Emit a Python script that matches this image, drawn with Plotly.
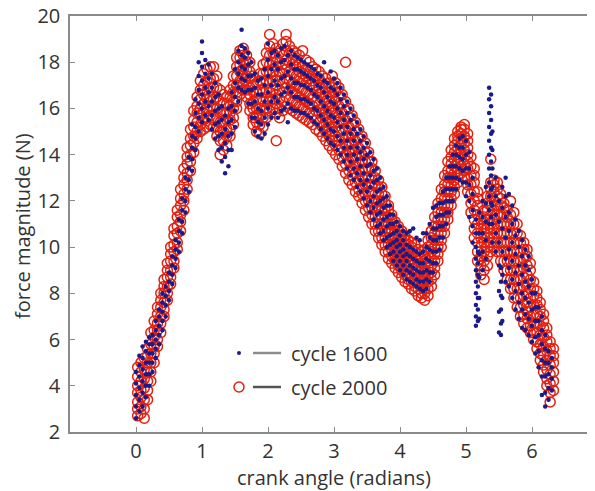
import plotly.graph_objects as go

# crank angle (rad) of each sample column and the force readings (N) seen at that angle
blue_angle = [
    0.00, 0.05, 0.10, 0.15, 0.20, 0.25, 0.30, 0.35, 0.40, 0.45,
    0.50, 0.55, 0.60, 0.65, 0.70, 0.75, 0.80, 0.85, 0.90, 0.95,
    1.00, 1.05, 1.10, 1.15, 1.20, 1.25, 1.30, 1.35, 1.40, 1.45,
    1.50, 1.55, 1.60, 1.65, 1.70, 1.75, 1.80, 1.85, 1.90, 1.95,
    2.00, 2.05, 2.10, 2.15, 2.20, 2.25, 2.30, 2.35, 2.40, 2.45,
    2.50, 2.55, 2.60, 2.65, 2.70, 2.75, 2.80, 2.85, 2.90, 2.95,
    3.00, 3.05, 3.10, 3.15, 3.20, 3.25, 3.30, 3.35, 3.40, 3.45,
    3.50, 3.55, 3.60, 3.65, 3.70, 3.75, 3.80, 3.85, 3.90, 3.95,
    4.00, 4.05, 4.10, 4.15, 4.20, 4.25, 4.30, 4.35, 4.40, 4.45,
    4.50, 4.55, 4.60, 4.65, 4.70, 4.75, 4.80, 4.85, 4.90, 4.95,
    5.00, 5.05, 5.10, 5.15, 5.18, 5.20, 5.25, 5.30, 5.35, 5.38,
    5.40, 5.45, 5.50, 5.53, 5.55, 5.60, 5.65, 5.70, 5.75, 5.80,
    5.85, 5.90, 5.95, 6.00, 6.05, 6.10, 6.15, 6.20, 6.25, 6.30,
]
blue_force = [
    [2.6, 3.1, 3.6, 4.1, 4.6], [2.9, 3.4, 3.9, 4.4, 4.9, 5.3], [3.1, 3.7, 4.2, 4.7, 5.2, 5.7],
    [3.5, 4.0, 4.5, 5.0, 5.5, 5.9], [4.0, 4.5, 5.0, 5.4, 5.8, 6.1], [4.6, 5.0, 5.4, 5.8, 6.2],
    [5.2, 5.6, 6.0, 6.4, 6.8], [5.8, 6.2, 6.6, 7.0, 7.3], [6.4, 6.8, 7.2, 7.6, 8.0],
    [7.0, 7.5, 7.9, 8.3], [7.7, 8.1, 8.5, 8.9], [8.4, 8.8, 9.2, 9.6],
    [9.1, 9.5, 9.9, 10.3], [9.8, 10.2, 10.7, 11.2], [10.6, 11.1, 11.6, 12.1],
    [11.5, 12.0, 12.5, 13.0], [12.4, 12.9, 13.4, 13.9], [13.3, 13.8, 14.3, 14.8, 15.3],
    [14.2, 14.7, 15.2, 15.8, 16.4], [15.0, 15.6, 16.2, 16.8, 17.4, 18.0],
    [15.4, 16.0, 16.6, 17.2, 17.8, 18.4, 18.9], [15.7, 16.3, 16.9, 17.5, 18.1],
    [15.5, 16.1, 16.7, 17.3, 17.9], [15.1, 15.7, 16.3, 16.9, 17.5], [14.7, 15.3, 15.9, 16.5, 17.1],
    [14.2, 14.8, 15.4, 16.0, 16.6], [13.7, 14.3, 14.9, 15.5, 16.1], [13.2, 13.9, 14.5, 15.1, 15.7],
    [13.5, 14.2, 14.8, 15.4, 16.0], [14.2, 14.9, 15.5, 16.1, 16.7], [15.2, 15.9, 16.5, 17.1, 17.7],
    [16.3, 16.9, 17.5, 18.0, 18.5], [16.8, 17.3, 17.8, 18.3, 18.7, 19.4], [16.7, 17.2, 17.7, 18.2, 18.6],
    [16.2, 16.8, 17.4, 17.9, 18.4], [15.6, 16.2, 16.8, 17.4, 18.0], [15.0, 15.6, 16.3, 16.9, 17.5],
    [14.8, 15.4, 16.0, 16.6, 17.2], [14.7, 15.3, 15.9, 16.6, 17.3], [14.9, 15.6, 16.3, 17.0, 17.7],
    [15.3, 16.0, 16.7, 17.4, 18.1, 18.8], [15.6, 16.3, 17.0, 17.7, 18.4], [15.8, 16.5, 17.2, 17.9, 18.5],
    [15.6, 16.3, 17.0, 17.7, 18.3], [15.9, 16.6, 17.3, 18.0, 18.6], [16.0, 16.7, 17.4, 18.1, 18.7],
    [15.4, 16.2, 16.9, 17.6, 18.3], [16.0, 16.7, 17.3, 17.9, 18.5], [15.9, 16.5, 17.1, 17.7, 18.3],
    [15.9, 16.5, 17.1, 17.7, 18.2], [15.8, 16.4, 17.0, 17.6, 18.1], [15.8, 16.4, 17.0, 17.5, 18.0],
    [15.7, 16.3, 16.9, 17.4, 17.9], [15.6, 16.2, 16.8, 17.3, 17.8], [15.4, 16.0, 16.6, 17.2, 17.7],
    [15.3, 15.9, 16.5, 17.0, 17.5], [15.1, 15.7, 16.3, 16.9, 17.4], [14.9, 15.5, 16.1, 16.7, 17.2, 18.0],
    [14.7, 15.3, 15.9, 16.5, 17.1], [14.5, 15.1, 15.7, 16.3, 16.9, 17.6],
    [14.4, 15.0, 15.6, 16.2, 16.8, 17.3], [14.2, 14.8, 15.4, 16.0, 16.6, 17.1],
    [14.0, 14.6, 15.2, 15.8, 16.4, 16.9], [13.7, 14.3, 14.9, 15.5, 16.1, 16.6],
    [13.4, 14.0, 14.6, 15.2, 15.8, 16.3], [13.1, 13.7, 14.3, 14.9, 15.5, 16.0],
    [12.9, 13.4, 14.0, 14.6, 15.1, 15.7], [12.6, 13.2, 13.8, 14.3, 14.9, 15.4],
    [12.4, 12.9, 13.5, 14.1, 14.6, 15.1], [12.1, 12.7, 13.2, 13.8, 14.3, 14.8],
    [11.8, 12.4, 12.9, 13.5, 14.0, 14.5], [11.5, 12.0, 12.6, 13.1, 13.6, 14.1],
    [11.2, 11.7, 12.2, 12.8, 13.3, 13.8], [10.9, 11.4, 11.9, 12.4, 12.9, 13.4],
    [10.6, 11.0, 11.5, 12.0, 12.5, 13.0], [10.3, 10.7, 11.2, 11.7, 12.1, 12.6],
    [10.0, 10.4, 10.9, 11.3, 11.8, 12.2], [9.7, 10.1, 10.5, 11.0, 11.4, 11.8],
    [9.4, 9.8, 10.2, 10.6, 11.0, 11.4], [9.2, 9.6, 10.0, 10.3, 10.7, 11.1],
    [9.0, 9.4, 9.8, 10.1, 10.5, 10.9], [8.8, 9.2, 9.6, 9.9, 10.3, 10.7],
    [8.6, 9.0, 9.4, 9.7, 10.1, 10.6], [8.5, 8.9, 9.2, 9.6, 10.0, 10.7],
    [8.4, 8.8, 9.1, 9.5, 9.9, 10.8], [8.3, 8.6, 9.0, 9.4, 9.8, 10.4],
    [8.2, 8.5, 8.9, 9.3, 9.7, 10.3], [8.1, 8.5, 8.9, 9.3, 9.8, 10.6],
    [8.2, 8.6, 9.0, 9.5, 10.0, 10.6], [8.5, 8.9, 9.4, 9.9, 10.4, 11.0],
    [8.9, 9.3, 9.8, 10.3, 10.8, 11.7], [9.3, 9.8, 10.3, 10.8, 11.3, 11.8],
    [9.9, 10.4, 10.9, 11.4, 11.9], [10.4, 10.9, 11.4, 11.9, 12.4], [11.0, 11.5, 12.0, 12.5, 13.0],
    [11.5, 12.0, 12.5, 13.0, 13.5], [12.0, 12.5, 13.0, 13.5, 14.0], [12.5, 13.0, 13.5, 14.0, 14.4],
    [12.9, 13.4, 13.9, 14.3, 14.7], [12.8, 13.3, 13.8, 14.3, 14.8],
    [12.2, 12.8, 13.4, 14.0, 14.6], [11.3, 12.0, 12.7, 13.4, 14.1], [10.2, 10.9, 11.6, 12.3, 13.0],
    [6.6, 7.0, 7.5, 8.0, 8.5, 9.0, 9.5, 10.0, 10.6, 11.2], [6.8, 7.3, 7.8, 8.3, 8.8, 9.3, 9.8],
    [6.9, 7.8, 8.7, 9.7, 10.6, 11.5], [9.0, 9.8, 10.6, 11.3, 12.0], [9.5, 10.3, 11.1, 11.9, 12.6],
    [11.0, 11.6, 12.2, 12.8, 13.4, 14.0, 14.6, 15.2, 15.8, 16.4, 16.9],
    [11.3, 11.9, 12.5, 13.1, 13.7, 14.3, 14.9, 15.5, 16.1, 16.6],
    [10.2, 11.0, 11.8, 12.6, 13.4, 14.2, 15.0], [9.8, 10.6, 11.4, 12.2, 13.0],
    [6.3, 7.2, 8.1, 9.2, 10.2, 11.1, 12.0], [6.2, 6.7, 7.3, 7.9, 8.5, 9.1],
    [6.8, 7.8, 8.8, 9.8, 10.8, 11.7, 12.6], [8.5, 9.5, 10.4, 11.3, 12.2, 13.0],
    [8.3, 9.1, 9.9, 10.7, 11.5, 12.3], [7.8, 8.6, 9.4, 10.2, 11.0, 11.8],
    [7.3, 8.1, 8.9, 9.7, 10.5, 11.2], [6.9, 7.6, 8.4, 9.2, 10.0, 10.7],
    [6.5, 7.3, 8.0, 8.8, 9.6, 10.3], [6.4, 7.1, 7.8, 8.5, 9.2, 9.9],
    [6.2, 6.9, 7.6, 8.3, 9.0, 9.6], [5.9, 6.6, 7.3, 8.0, 8.6], [5.4, 6.1, 6.8, 7.4, 8.0],
    [4.8, 5.5, 6.2, 6.8, 7.4], [3.6, 4.4, 5.1, 5.8, 6.4, 7.0], [3.1, 3.7, 4.4, 5.0, 5.6, 6.2],
    [3.4, 3.9, 4.5, 5.0, 5.5], [3.8, 4.3, 4.8, 5.2],
]

red_angle = [
    0.025, 0.075, 0.125, 0.175, 0.225, 0.275, 0.325, 0.375, 0.425, 0.475,
    0.525, 0.575, 0.625, 0.675, 0.725, 0.775, 0.825, 0.875, 0.925, 0.975,
    1.025, 1.075, 1.125, 1.175, 1.225, 1.275, 1.325, 1.375, 1.425, 1.475,
    1.525, 1.575, 1.625, 1.675, 1.725, 1.775, 1.825, 1.875, 1.925, 1.975,
    2.025, 2.075, 2.125, 2.175, 2.225, 2.275, 2.325, 2.375, 2.425, 2.475,
    2.525, 2.575, 2.625, 2.675, 2.725, 2.775, 2.825, 2.875, 2.925, 2.975,
    3.025, 3.075, 3.125, 3.175, 3.225, 3.275, 3.325, 3.375, 3.425, 3.475,
    3.525, 3.575, 3.625, 3.675, 3.725, 3.775, 3.825, 3.875, 3.925, 3.975,
    4.025, 4.075, 4.125, 4.175, 4.225, 4.275, 4.325, 4.375, 4.425, 4.475,
    4.525, 4.575, 4.625, 4.675, 4.725, 4.775, 4.825, 4.875, 4.925, 4.975,
    5.025, 5.075, 5.125, 5.175, 5.225, 5.275, 5.325, 5.375, 5.425, 5.475,
    5.525, 5.575, 5.625, 5.675, 5.725, 5.775, 5.825, 5.875, 5.925, 5.975,
    6.025, 6.075, 6.125, 6.175, 6.225, 6.275, 6.325,
]
red_force = [
    [2.7, 3.0, 3.3, 3.7, 4.0, 4.4, 4.8], [2.8, 3.1, 3.5, 3.8, 4.2, 4.6, 5.0],
    [2.6, 3.0, 3.4, 3.9, 4.3, 4.7, 5.2], [3.4, 3.8, 4.2, 4.6, 5.0, 5.3, 5.6],
    [4.2, 4.6, 5.0, 5.4, 5.8, 6.3], [5.0, 5.4, 5.7, 6.1, 6.4, 6.8],
    [5.7, 6.0, 6.4, 6.7, 7.1, 7.4], [6.3, 6.7, 7.0, 7.4, 7.7, 8.0],
    [7.0, 7.3, 7.6, 8.0, 8.3, 8.6], [7.7, 8.0, 8.3, 8.7, 9.0, 9.3],
    [8.4, 8.7, 9.0, 9.4, 9.7, 10.0], [9.1, 9.4, 9.8, 10.1, 10.5, 10.8],
    [9.9, 10.2, 10.6, 10.9, 11.3, 11.6], [10.7, 11.1, 11.4, 11.8, 12.1, 12.5],
    [11.6, 12.0, 12.3, 12.7, 13.0, 13.4], [12.5, 12.9, 13.2, 13.6, 13.9, 14.3],
    [13.3, 13.7, 14.0, 14.4, 14.7, 15.1], [14.1, 14.5, 14.8, 15.2, 15.5, 15.9],
    [14.7, 15.0, 15.4, 15.8, 16.1, 16.5], [15.0, 15.3, 15.7, 16.0, 16.4, 16.8, 17.2],
    [15.1, 15.5, 15.8, 16.2, 16.6, 17.0, 17.5], [15.2, 15.6, 16.0, 16.4, 16.8, 17.2, 17.7],
    [15.3, 15.7, 16.1, 16.5, 16.9, 17.3, 17.8], [15.2, 15.6, 16.0, 16.4, 16.9, 17.3, 17.8],
    [14.8, 15.2, 15.6, 16.0, 16.5, 16.9, 17.4], [14.0, 14.6, 15.0, 15.4, 15.8, 16.3, 16.8],
    [14.2, 14.6, 15.0, 15.4, 15.8, 16.2, 16.6], [14.4, 14.8, 15.1, 15.5, 15.8, 16.2, 16.5],
    [14.8, 15.1, 15.5, 15.8, 16.1, 16.5, 16.8], [15.3, 15.6, 16.0, 16.3, 16.7, 17.0, 17.4],
    [16.0, 16.3, 16.7, 17.0, 17.4, 17.8, 18.2], [16.6, 16.9, 17.2, 17.6, 17.9, 18.2, 18.5],
    [16.8, 17.1, 17.4, 17.7, 18.0, 18.3, 18.6], [16.5, 16.8, 17.1, 17.4, 17.7, 18.0, 18.3],
    [15.9, 16.2, 16.6, 16.9, 17.3, 17.6, 18.0], [15.3, 15.6, 16.0, 16.3, 16.7, 17.0, 17.4],
    [15.0, 15.4, 15.7, 16.0, 16.4, 16.7, 17.1], [14.9, 15.3, 15.7, 16.0, 16.4, 16.8, 17.2, 17.5],
    [15.2, 15.6, 15.9, 16.3, 16.7, 17.1, 17.5, 17.9], [15.6, 16.0, 16.4, 16.8, 17.2, 17.6, 18.0, 18.4],
    [15.9, 16.3, 16.7, 17.1, 17.5, 17.9, 18.3, 18.7, 19.2],
    [16.0, 16.4, 16.8, 17.2, 17.6, 18.0, 18.4, 18.8],
    [14.6, 15.8, 16.2, 16.6, 17.0, 17.4, 17.8, 18.2, 18.6],
    [15.6, 16.0, 16.4, 16.8, 17.2, 17.6, 18.0, 18.4],
    [15.9, 16.3, 16.7, 17.1, 17.5, 17.9, 18.3, 18.8],
    [16.1, 16.5, 16.9, 17.3, 17.7, 18.1, 18.5, 18.9, 19.2],
    [16.0, 16.4, 16.8, 17.2, 17.6, 18.0, 18.4, 18.7],
    [15.9, 16.3, 16.7, 17.1, 17.5, 17.9, 18.2, 18.5],
    [15.8, 16.2, 16.6, 17.0, 17.4, 17.8, 18.1, 18.4],
    [15.7, 16.1, 16.5, 16.9, 17.3, 17.6, 17.9, 18.3],
    [15.6, 16.0, 16.4, 16.8, 17.2, 17.5, 17.8, 18.5],
    [15.5, 15.9, 16.3, 16.7, 17.1, 17.4, 17.7, 18.1],
    [15.4, 15.8, 16.2, 16.6, 17.0, 17.3, 17.6, 18.0],
    [15.3, 15.7, 16.1, 16.5, 16.9, 17.2, 17.5, 17.8],
    [15.1, 15.5, 15.9, 16.3, 16.7, 17.0, 17.4, 17.7],
    [15.0, 15.4, 15.8, 16.2, 16.6, 16.9, 17.3, 17.6],
    [14.8, 15.2, 15.6, 16.0, 16.4, 16.7, 17.1, 17.4],
    [14.6, 15.0, 15.4, 15.8, 16.2, 16.5, 16.9, 17.3],
    [14.4, 14.8, 15.2, 15.6, 16.0, 16.3, 16.7, 17.1],
    [14.2, 14.6, 15.0, 15.4, 15.8, 16.1, 16.5, 16.9, 17.4],
    [14.0, 14.4, 14.8, 15.2, 15.6, 15.9, 16.3, 16.7, 17.1],
    [13.8, 14.2, 14.6, 15.0, 15.4, 15.7, 16.1, 16.5, 16.9],
    [13.5, 13.9, 14.3, 14.7, 15.1, 15.4, 15.8, 16.2, 16.6],
    [13.2, 13.6, 14.0, 14.4, 14.8, 15.1, 15.5, 15.9, 16.3, 18.0],
    [12.9, 13.3, 13.7, 14.1, 14.5, 14.8, 15.2, 15.6, 16.0],
    [12.7, 13.1, 13.4, 13.8, 14.2, 14.5, 14.9, 15.3, 15.7],
    [12.4, 12.8, 13.2, 13.5, 13.9, 14.2, 14.6, 15.0, 15.4],
    [12.2, 12.5, 12.9, 13.3, 13.6, 14.0, 14.3, 14.7, 15.1],
    [11.9, 12.3, 12.6, 13.0, 13.3, 13.7, 14.0, 14.4, 14.8],
    [11.6, 12.0, 12.3, 12.7, 13.0, 13.4, 13.7, 14.1, 14.5],
    [11.3, 11.7, 12.0, 12.4, 12.7, 13.0, 13.4, 13.7, 14.1],
    [11.0, 11.4, 11.7, 12.0, 12.4, 12.7, 13.0, 13.4, 13.7],
    [10.7, 11.0, 11.3, 11.7, 12.0, 12.3, 12.7, 13.0, 13.3],
    [10.4, 10.7, 11.0, 11.4, 11.7, 12.0, 12.3, 12.6, 12.9],
    [10.1, 10.4, 10.7, 11.0, 11.3, 11.6, 12.0, 12.3, 12.6],
    [9.8, 10.1, 10.4, 10.7, 11.0, 11.3, 11.6, 11.9, 12.2],
    [9.5, 9.8, 10.1, 10.4, 10.7, 11.0, 11.3, 11.6, 11.8],
    [9.3, 9.6, 9.9, 10.1, 10.4, 10.7, 11.0, 11.2, 11.4],
    [9.1, 9.4, 9.6, 9.9, 10.2, 10.4, 10.7, 10.9, 11.1],
    [8.9, 9.2, 9.4, 9.7, 10.0, 10.2, 10.5, 10.7, 10.9],
    [8.7, 9.0, 9.2, 9.5, 9.8, 10.0, 10.3, 10.5, 10.7],
    [8.5, 8.8, 9.0, 9.3, 9.6, 9.8, 10.1, 10.3, 10.5],
    [8.4, 8.6, 8.9, 9.1, 9.4, 9.6, 9.9, 10.1, 10.3],
    [8.2, 8.5, 8.7, 9.0, 9.2, 9.5, 9.7, 10.0, 10.2],
    [8.1, 8.3, 8.6, 8.8, 9.1, 9.3, 9.6, 9.8, 10.1],
    [7.9, 8.2, 8.4, 8.7, 8.9, 9.2, 9.4, 9.7, 9.9],
    [7.8, 8.0, 8.3, 8.5, 8.8, 9.0, 9.3, 9.5, 9.8],
    [7.7, 8.0, 8.2, 8.5, 8.7, 9.0, 9.3, 9.6, 9.9],
    [7.9, 8.2, 8.5, 8.8, 9.1, 9.4, 9.7, 10.0, 10.3],
    [8.3, 8.6, 8.9, 9.2, 9.5, 9.8, 10.1, 10.4, 10.7],
    [8.8, 9.1, 9.4, 9.7, 10.0, 10.3, 10.6, 10.9, 11.3],
    [9.4, 9.7, 10.0, 10.3, 10.6, 10.9, 11.2, 11.5, 11.9],
    [10.0, 10.3, 10.6, 10.9, 11.2, 11.5, 11.8, 12.1, 12.5],
    [10.6, 10.9, 11.2, 11.5, 11.8, 12.1, 12.4, 12.7, 13.1],
    [11.2, 11.5, 11.8, 12.1, 12.4, 12.7, 13.0, 13.3, 13.7],
    [11.8, 12.1, 12.4, 12.7, 13.0, 13.3, 13.6, 13.9, 14.2],
    [12.3, 12.6, 12.9, 13.2, 13.5, 13.8, 14.1, 14.4, 14.7],
    [12.8, 13.1, 13.4, 13.7, 14.0, 14.3, 14.6, 14.8, 15.0],
    [13.2, 13.5, 13.8, 14.1, 14.4, 14.7, 14.9, 15.1, 15.2],
    [13.0, 13.3, 13.6, 13.9, 14.2, 14.5, 14.8, 15.1, 15.3],
    [12.4, 12.7, 13.0, 13.4, 13.7, 14.0, 14.3, 14.6, 14.9],
    [11.5, 11.9, 12.3, 12.7, 13.1, 13.5, 13.9],
    [10.4, 10.8, 11.2, 11.6, 12.0, 12.4, 12.8, 13.1, 13.4],
    [9.4, 9.8, 10.2, 10.6, 11.0, 11.4, 11.8, 12.1, 12.4],
    [8.8, 9.2, 9.6, 10.0, 10.4, 10.8, 11.2],
    [8.6, 9.0, 9.4, 9.8, 10.2, 10.6, 11.0, 11.3, 11.6],
    [9.2, 9.6, 10.0, 10.4, 10.8, 11.2, 11.6, 11.9, 12.2],
    [9.8, 10.2, 10.6, 11.0, 11.4, 11.8, 12.2, 12.5, 12.8, 13.8],
    [10.0, 10.4, 10.8, 11.2, 11.6, 12.0, 12.4, 12.7, 12.9],
    [9.8, 10.2, 10.6, 11.0, 11.4, 11.8, 12.2, 12.5, 12.8],
    [9.4, 9.8, 10.2, 10.6, 11.0, 11.4, 11.8, 12.1, 12.3],
    [9.0, 9.4, 9.8, 10.2, 10.6, 11.0, 11.4, 11.7, 11.9],
    [8.6, 9.0, 9.4, 9.8, 10.2, 10.6, 11.0, 11.3, 11.6],
    [8.2, 8.6, 9.0, 9.4, 9.8, 10.2, 10.6, 11.0, 11.4, 12.0],
    [7.8, 8.2, 8.6, 9.0, 9.4, 9.8, 10.2, 10.6, 11.0, 11.5],
    [7.4, 7.8, 8.2, 8.6, 9.0, 9.4, 9.8, 10.2, 10.6, 11.0],
    [7.0, 7.4, 7.8, 8.2, 8.6, 9.0, 9.4, 9.8, 10.2, 10.5],
    [6.7, 7.1, 7.5, 7.9, 8.3, 8.7, 9.1, 9.5, 9.9, 10.2],
    [6.5, 6.9, 7.2, 7.6, 8.0, 8.4, 8.8, 9.2, 9.6, 9.9],
    [6.3, 6.6, 7.0, 7.4, 7.8, 8.2, 8.6, 9.0, 9.3],
    [6.0, 6.3, 6.7, 7.1, 7.5, 7.9, 8.2, 8.5],
    [5.6, 5.9, 6.3, 6.7, 7.1, 7.5, 7.8, 8.1],
    [5.1, 5.4, 5.8, 6.2, 6.6, 7.0, 7.3, 7.6],
    [4.6, 4.9, 5.3, 5.7, 6.1, 6.5, 6.8, 7.1],
    [4.0, 4.3, 4.7, 5.1, 5.5, 5.9, 6.2, 6.5],
    [3.3, 3.7, 4.1, 4.5, 4.9, 5.3, 5.6, 5.9],
    [3.8, 4.2, 4.6, 5.0, 5.3, 5.6],
]

x_ticks = [0, 1, 2, 3, 4, 5, 6]
y_ticks = [2, 4, 6, 8, 10, 12, 14, 16, 18, 20]
legend_labels = ["cycle 1600", "cycle 2000"]

BLUE = "#1a1a88"
RED = "#e3200f"
AXIS_GREY = "#8a8a8a"
TEXT = "#333333"
FONT = "Open Sans"
FSIZE = 20

# the page adds an 8px body margin, so the figure sits 8px right and down.
# plot box on the page: left 70, right 598 (just past the window), top 16, bottom 432
OFF = 8
PL, PW, PT, PH = 70, 528, 16, 416


def flatten(angles, forces):
    xs, ys = [], []
    for a, col in zip(angles, forces):
        for f in col:
            xs.append(a)
            ys.append(f)
    return xs, ys


def px(x):
    return (x - PL) / PW


def py(y):
    return (PT + PH - y) / PH


bx, by = flatten(blue_angle, blue_force)
rx, ry = flatten(red_angle, red_force)

fig = go.Figure()
fig.add_trace(
    go.Scatter(
        x=rx, y=ry, mode="markers", name=legend_labels[1], showlegend=False,
        marker=dict(symbol="circle-open", size=10, color=RED, line=dict(width=1.5)),
    )
)
fig.add_trace(
    go.Scatter(
        x=bx, y=by, mode="markers", name=legend_labels[0], showlegend=False,
        marker=dict(symbol="circle", size=4.5, color=BLUE),
    )
)

axis_common = dict(
    showgrid=False, zeroline=False, showline=True, linecolor=AXIS_GREY, linewidth=1.5,
    mirror="ticks", ticks="inside", ticklen=5, tickcolor=AXIS_GREY, tickwidth=1.2,
    tickfont=dict(family=FONT, size=FSIZE, color=TEXT), automargin=False,
    ticklabeloverflow="allow",
)
fig.update_xaxes(range=[-1, 7], tickvals=x_ticks, ticklabelstandoff=0, **axis_common)
fig.update_yaxes(range=[2, 20], tickvals=y_ticks, ticklabelstandoff=4, **axis_common)

# axis titles
fig.add_annotation(
    text="crank angle (radians)", xref="paper", yref="paper", x=px(334), y=py(477),
    xanchor="center", yanchor="middle", showarrow=False,
    font=dict(family=FONT, size=FSIZE, color=TEXT),
)
fig.add_annotation(
    text="force magnitude (N)", xref="paper", yref="paper", x=px(22), y=py(226),
    xanchor="center", yanchor="middle", showarrow=False, textangle=-90,
    font=dict(family=FONT, size=FSIZE, color=TEXT),
)

# hand drawn legend: marker, short line, label (MATLAB style)
legend_rows = [
    (353, BLUE, "#8c8c8c", True),
    (387, RED, "#555555", False),
]
for (ly, col, line_col, filled), label in zip(legend_rows, legend_labels):
    r = 2 if filled else 5
    fig.add_shape(
        type="circle", xref="paper", yref="paper", xsizemode="pixel", ysizemode="pixel",
        xanchor=px(239), yanchor=py(ly), x0=-r, x1=r, y0=-r, y1=r,
        line=dict(color=col, width=0 if filled else 1.5),
        fillcolor=col if filled else "rgba(0,0,0,0)",
    )
    fig.add_shape(
        type="line", xref="paper", yref="paper",
        x0=px(253), x1=px(281), y0=py(ly), y1=py(ly),
        line=dict(color=line_col, width=2.5),
    )
    fig.add_annotation(
        text=label, xref="paper", yref="paper", x=px(289), y=py(ly),
        xanchor="left", yanchor="middle", showarrow=False,
        font=dict(family=FONT, size=FSIZE, color=TEXT),
    )

fig.update_layout(
    width=595, height=491,
    margin=dict(l=PL - OFF, r=595 - (PL - OFF) - PW, t=PT - OFF, b=491 - (PT - OFF) - PH),
    plot_bgcolor="white", paper_bgcolor="white",
)

fig.write_html("out.html")
